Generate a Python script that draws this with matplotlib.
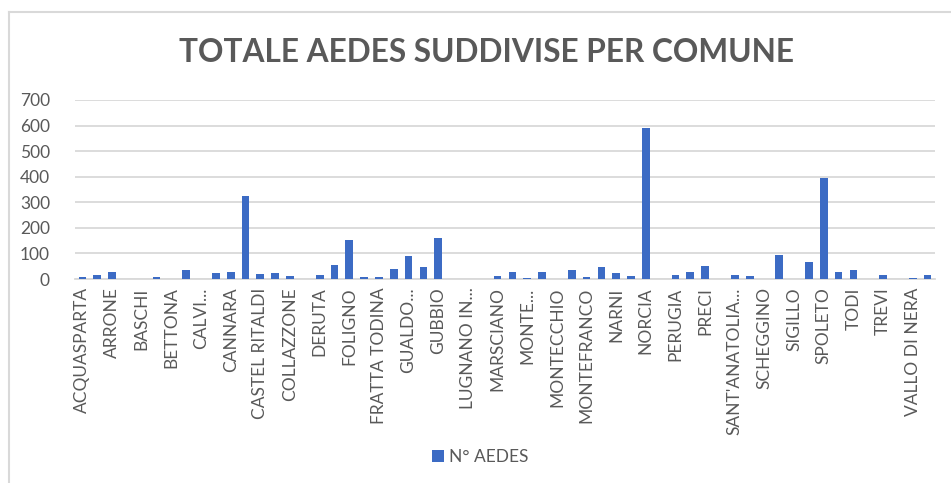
import matplotlib
matplotlib.use('Agg')
import matplotlib.pyplot as plt
from matplotlib.lines import Line2D
from matplotlib.patches import Patch

plt.rcParams['font.family'] = ['Lato', 'DejaVu Sans']

# comuni (only every other one is labelled in the chart)
comuni = ["ACQUASPARTA", "AMELIA", "ARRONE", "ASSISI", "BASCHI", "BASTIA UMBRA",
          "BETTONA", "BEVAGNA", "CALVI...", "CAMPELLO SUL CLITUNNO", "CANNARA", "CASCIA",
          "CASTEL RITALDI", "CERRETO DI SPOLETO", "COLLAZZONE", "CORCIANO", "DERUTA",
          "FERENTILLO", "FOLIGNO", "FOSSATO DI VICO", "FRATTA TODINA", "GIANO DELL'UMBRIA",
          "GUALDO...", "GUALDO TADINO", "GUBBIO", "LISCIANO NICCONE", "LUGNANO IN...",
          "MAGIONE", "MARSCIANO", "MASSA MARTANA", "MONTE...", "MONTE SANTA MARIA TIBERINA",
          "MONTECCHIO", "MONTEFALCO", "MONTEFRANCO", "MONTELEONE DI SPOLETO", "NARNI",
          "NOCERA UMBRA", "NORCIA", "ORVIETO", "PERUGIA", "POGGIODOMO", "PRECI",
          "SAN GEMINI", "SANT'ANATOLIA...", "SCHEGGIA E PASCELUPO", "SCHEGGINO", "SELLANO",
          "SIGILLO", "SPELLO", "SPOLETO", "TERNI", "TODI", "TORGIANO", "TREVI",
          "UMBERTIDE", "VALLO DI NERA", "VALTOPINA"]

n_aedes = [6, 14, 27, 0, 0, 6, 0, 35, 0, 24, 27, 325, 18, 24, 10, 0, 14, 56, 152, 6,
           6, 39, 89, 47, 161, 0, 0, 0, 10, 27, 5, 27, 0, 35, 6, 47, 24, 10, 590, 0,
           14, 27, 51, 0, 14, 10, 0, 94, 0, 66, 396, 27, 35, 0, 14, 0, 5, 14]

yticks = [0, 100, 200, 300, 400, 500, 600, 700]

grey = '#595959'
grid = '#D9D9D9'
blue = '#3C6BC4'

fig = plt.figure(figsize=(9.51, 4.83), dpi=100)
ax = fig.add_axes([75/951, 1-279/483, 860/951, 179/483])

x = list(range(len(comuni)))
ax.bar(x, n_aedes, width=0.52, color=blue, zorder=3)

ax.set_xlim(-0.5, len(comuni) - 0.5)
ax.set_ylim(0, 700)
ax.set_yticks(yticks)
ax.set_xticks(x[::2])
ax.set_xticklabels(comuni[::2], rotation=90, va='top', ha='center')
ax.tick_params(axis='both', length=0, labelsize=12.5, labelcolor=grey)
ax.tick_params(axis='y', pad=18)
ax.tick_params(axis='x', pad=6)
ax.yaxis.grid(True, color=grid, linewidth=1.3, zorder=0)
for s in ['top', 'right', 'left']:
    ax.spines[s].set_visible(False)
ax.spines['bottom'].set_color(grid)
ax.spines['bottom'].set_linewidth(1.3)

fig.text(486/951, 1-52/483, 'TOTALE AEDES SUDDIVISE PER COMUNE', ha='center', va='center',
         fontsize=22.8, fontweight='bold', color=grey)

fig.legend(handles=[Patch(facecolor=blue, label='N° AEDES')], loc='center',
           bbox_to_anchor=(480/951, 1-457/483), frameon=False, fontsize=12.5,
           labelcolor=grey, handlelength=0.7, handleheight=0.7, handletextpad=0.3)

# chart border (top and left visible)
fig.add_artist(Line2D([9/951, 1], [1-12/483, 1-12/483], color=grid, linewidth=1.5))
fig.add_artist(Line2D([9/951, 9/951], [0, 1-12/483], color=grid, linewidth=1.5))

fig.savefig('out.png', dpi=100)
